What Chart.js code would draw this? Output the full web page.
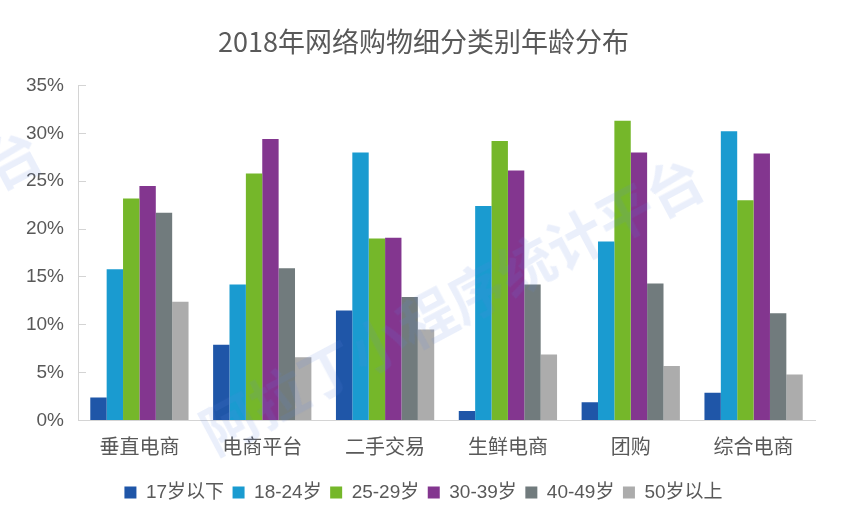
<!DOCTYPE html>
<html>
<head>
<meta charset="utf-8">
<style>
  html, body { margin: 0; padding: 0; background: #fff; overflow: hidden; }
  #wrap { position: relative; width: 855px; height: 521px; overflow: hidden; }
  .mark {
    position: absolute;
    font: bold 56px "Noto Sans CJK SC", sans-serif;
    color: rgba(90, 130, 225, 0.13);
    white-space: nowrap;
    transform: rotate(-28deg);
    transform-origin: left center;
    pointer-events: none;
  }
</style>
<script src="https://cdn.jsdelivr.net/npm/chart.js@4/dist/chart.umd.min.js"></script>
</head>
<body>
<div id="wrap">
  <canvas id="ageChart" width="855" height="521"></canvas>
  <div class="mark" style="left:203px;top:393px;">阿拉丁小程序统计平台</div>
  <div class="mark" style="left:-459px;top:365px;">阿拉丁小程序统计平台</div>
</div>
<script>
const categories = ['垂直电商', '电商平台', '二手交易', '生鲜电商', '团购', '综合电商'];
const ageGroups = ['17岁以下', '18-24岁', '25-29岁', '30-39岁', '40-49岁', '50岁以上'];
const under17 = [2.4, 7.9, 11.5, 1.0, 1.9, 2.9];
const age18to24 = [15.8, 14.2, 28.0, 22.4, 18.7, 30.2];
const age25to29 = [23.2, 25.8, 19.0, 29.2, 31.3, 23.0];
const age30to39 = [24.5, 29.4, 19.1, 26.1, 28.0, 27.9];
const age40to49 = [21.7, 15.9, 12.9, 14.2, 14.3, 11.2];
const over50 = [12.4, 6.6, 9.5, 6.9, 5.7, 4.8];
const seriesColors = ['#1f56a8', '#1a9bd0', '#75b72a', '#83368f', '#717b7d', '#acacac'];

const textColor = '#595959';
const latinFont = '"Liberation Sans", "Noto Sans CJK SC", sans-serif';
const allSeries = [under17, age18to24, age25to29, age30to39, age40to49, over50];

new Chart(document.getElementById('ageChart'), {
  type: 'bar',
  data: {
    labels: categories,
    datasets: allSeries.map((values, i) => ({
      label: ageGroups[i],
      data: values,
      backgroundColor: seriesColors[i],
      categoryPercentage: 0.8,
      barPercentage: 1
    }))
  },
  options: {
    responsive: false,
    animation: false,
    layout: { padding: { left: 0, right: 8, top: 0, bottom: 9 } },
    plugins: {
      tooltip: { enabled: false },
      title: {
        display: true,
        text: '2018年网络购物细分类别年龄分布',
        color: textColor,
        font: { family: '"Noto Sans CJK SC", sans-serif', size: 27, weight: 'normal' },
        padding: { top: 26, bottom: 27 }
      },
      legend: {
        position: 'bottom',
        labels: {
          color: textColor,
          font: { family: latinFont, size: 19 },
          boxWidth: 12,
          boxHeight: 12,
          padding: 8.5
        }
      }
    },
    scales: {
      x: {
        grid: { display: false },
        border: { color: '#d4d4d4' },
        ticks: {
          color: textColor,
          font: { family: '"Noto Sans CJK SC", sans-serif', size: 20 },
          padding: 6
        },
        afterFit(scale) { scale.height = 54; }
      },
      y: {
        min: 0,
        max: 35,
        ticks: {
          stepSize: 5,
          color: textColor,
          font: { family: latinFont, size: 19 },
          padding: 22,
          callback: value => value + '%'
        },
        border: { color: '#d4d4d4' },
        grid: { drawOnChartArea: false, tickLength: -8, color: '#d4d4d4' },
        afterFit(scale) { scale.width = 78; }
      },
      // empty axis, keeps the plot narrower than the centred title and legend
      rightGap: {
        type: 'linear',
        position: 'right',
        ticks: { display: false },
        border: { display: false },
        grid: { display: false },
        afterFit(scale) { scale.width = 32; }
      }
    }
  }
});
</script>
</body>
</html>
